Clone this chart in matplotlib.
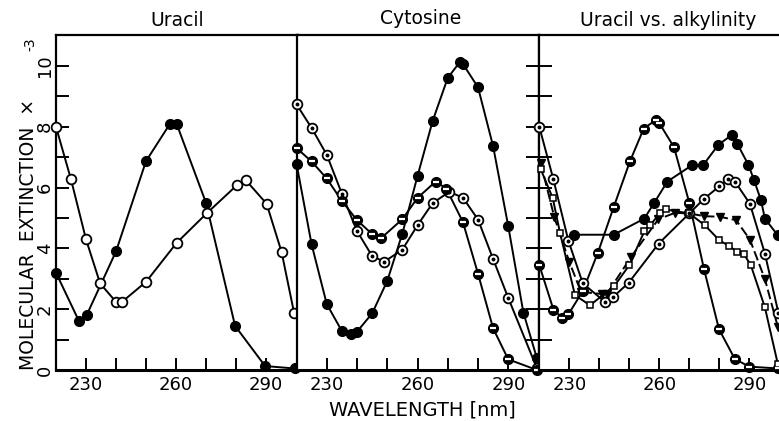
import numpy as np
import matplotlib
matplotlib.use("Agg")
import matplotlib.pyplot as plt

W, H = 779, 421

# ---- Uracil (panel 1)
u_neut_wl = [220, 227.7, 230.2, 240, 250, 258, 260.2, 270, 279.7, 289.7, 299.5]
u_neut = [3.2, 1.6, 1.8, 3.9, 6.87, 8.1, 8.1, 5.5, 1.45, 0.13, 0.05]
u_alk_wl = [220, 225, 230, 234.7, 240, 242, 250, 260.2, 270.2, 280.2, 283.3, 290.2, 295.2, 299.4]
u_alk = [8.0, 6.27, 4.3, 2.85, 2.24, 2.24, 2.9, 4.18, 5.15, 6.07, 6.24, 5.47, 3.88, 1.86]

# ---- Cytosine (panel 2)
c_fill_wl = [220, 225, 230, 235, 238, 240, 245, 250, 255, 260, 265, 270, 274, 275, 280, 285, 290, 295, 299.5]
c_fill = [6.79, 4.13, 2.17, 1.28, 1.17, 1.26, 1.86, 2.93, 4.49, 6.38, 8.19, 9.61, 10.13, 10.07, 9.3, 7.36, 4.73, 1.89, 0.38]
c_dot_wl = [220, 225, 230, 235, 240, 245, 249, 255, 260, 265, 270.5, 275, 280, 285, 290, 299.5]
c_dot = [8.74, 7.96, 7.08, 5.8, 4.57, 3.75, 3.56, 3.96, 4.76, 5.49, 5.86, 5.67, 4.95, 3.65, 2.37, 0.05]
c_half_wl = [220, 225, 230, 235, 240, 245, 248, 255, 260, 266, 269.5, 275, 280, 285, 290, 299.5]
c_half = [7.3, 6.86, 6.3, 5.56, 4.93, 4.47, 4.34, 4.96, 5.66, 6.2, 5.97, 4.87, 3.17, 1.37, 0.35, 0.0]

# ---- Uracil vs. alkylinity (panel 3)
a_half_wl = [220, 224.7, 227.6, 229.7, 234.5, 239.5, 244.8, 250.2, 254.8, 258.9, 260, 264.9, 270, 274.9, 279.9, 285.2, 290, 299.6]
a_half = [3.45, 1.99, 1.72, 1.83, 2.6, 3.85, 5.36, 6.86, 7.94, 8.23, 8.12, 7.33, 5.5, 3.32, 1.34, 0.36, 0.11, 0.05]
a_dot_wl = [220, 224.7, 229.7, 234.5, 241.9, 244.7, 249.8, 259.8, 270, 275, 280, 283, 285.2, 290.2, 295.2, 299.7]
a_dot = [8.0, 6.27, 4.25, 2.85, 2.24, 2.41, 2.87, 4.16, 5.15, 5.64, 6.04, 6.27, 6.2, 5.47, 3.83, 1.88]
a_fill_wl = [231.7, 244.8, 255, 258.3, 262.7, 270.8, 274.7, 279.7, 284.3, 286, 289.7, 291.6, 293.9, 295.2, 299.5]
a_fill = [4.45, 4.45, 4.98, 5.5, 6.2, 6.73, 6.75, 7.41, 7.74, 7.44, 6.75, 6.24, 5.58, 4.98, 4.43]
a_tri_wl = [220.5, 225, 230, 233.9, 240.8, 242.5, 250.6, 259.7, 265.2, 270, 275, 280.2, 285.6, 290.2, 295.2, 299.5]
a_tri = [6.8, 5.03, 3.56, 2.57, 2.5, 2.5, 3.72, 4.96, 5.17, 5.15, 5.06, 5.04, 4.93, 4.29, 2.99, 1.42]
a_sq_wl = [220.5, 224.5, 226.9, 231.9, 236.9, 245, 250, 255, 256.9, 260.2, 262.2, 270, 275.2, 280, 283.2, 286, 288.2, 290.5, 295.2, 299.5]
a_sq = [6.6, 5.65, 4.51, 2.46, 2.13, 2.76, 3.45, 4.56, 4.76, 5.15, 5.28, 5.15, 4.76, 4.27, 4.08, 3.89, 3.81, 3.45, 2.06, 0.2]


def series(ax, wl, vals, kind, ls='-'):
    ax.plot(wl, vals, color='k', lw=1.4, ls=ls, zorder=2, clip_on=False)
    if kind == 'filled':
        ax.plot(wl, vals, 'o', ms=7, mfc='k', mec='k', zorder=3, clip_on=False)
    elif kind == 'open':
        ax.plot(wl, vals, 'o', ms=7, mfc='w', mec='k', mew=1.3, zorder=3, clip_on=False)
    elif kind == 'dot':
        ax.plot(wl, vals, 'o', ms=7, mfc='w', mec='k', mew=1.3, zorder=3, clip_on=False)
        ax.plot(wl, vals, 'o', ms=1.8, mfc='k', mec='k', zorder=4, clip_on=False)
    elif kind == 'half':
        ax.plot(wl, vals, 'o', ms=7, mfc='k', mec='k', zorder=3, clip_on=False)
        ax.plot(wl, vals, '_', ms=5, mec='w', mew=1.6, zorder=4, clip_on=False)
    elif kind == 'tri':
        ax.plot(wl, vals, 'v', ms=6, mfc='k', mec='k', zorder=3, clip_on=False)
    elif kind == 'square':
        ax.plot(wl, vals, 's', ms=3.8, mfc='w', mec='k', mew=1.1, zorder=3, clip_on=False)


def px_axes(fig, left, right, top=35, bottom=370):
    return fig.add_axes([left / W, (H - bottom) / H, (right - left) / W, (bottom - top) / H])


fig = plt.figure(figsize=(W / 100, H / 100), dpi=100)
ax1 = px_axes(fig, 56, 297.5)
ax2 = px_axes(fig, 296.5, 538.5)
ax3 = px_axes(fig, 539.3, 779.3)

ax1.set_xlim(220, 300.5)
ax2.set_xlim(220, 300)
ax3.set_xlim(220, 300)

xt = [230, 240, 250, 260, 270, 280, 290]
xtl = ['230', '', '', '260', '', '', '290']
for ax in (ax1, ax2, ax3):
    ax.set_ylim(0, 11.02)
    ax.set_xticks(xt)
    ax.set_xticklabels(xtl)
    ax.tick_params(axis='x', direction='in', length=9, width=1.4, labelsize=13, pad=4)
    ax.tick_params(axis='y', direction='in', length=9.5, width=1.4)
    for s in ax.spines.values():
        s.set_linewidth(1.6)
    ax.spines['bottom'].set_linewidth(2.2)

ax1.set_yticks(range(0, 11))
ax1.set_yticklabels(['0', '', '2', '', '4', '', '6', '', '8', '', '10'],
                    rotation=90, va='center', fontsize=13)
ax1.tick_params(axis='y', pad=1.5)

ax2.yaxis.tick_right()
ax2.set_yticks(range(1, 11))
ax2.tick_params(axis='y', labelright=False)

ax3.set_yticks(range(1, 11))
ax3.set_yticklabels([])
ax3.spines['right'].set_visible(False)

series(ax1, u_neut_wl, u_neut, 'filled')
series(ax1, u_alk_wl, u_alk, 'open')

series(ax2, c_fill_wl, c_fill, 'filled')
series(ax2, c_dot_wl, c_dot, 'dot')
series(ax2, c_half_wl, c_half, 'half')

series(ax3, a_half_wl, a_half, 'half')
series(ax3, a_dot_wl, a_dot, 'dot')
series(ax3, a_fill_wl, a_fill, 'filled')
series(ax3, a_tri_wl, a_tri, 'tri', ls=(0, (5, 2)))
series(ax3, a_sq_wl, a_sq, 'square')


def ftext(x, y, s, **kw):
    fig.text(x / W, 1 - y / H, s, **kw)


ftext(177, 20, 'Uracil', fontsize=13.5, ha='center', va='center')
ftext(421, 19, 'Cytosine', fontsize=13.5, ha='center', va='center')
ftext(668, 20, 'Uracil vs. alkylinity', fontsize=13.5, ha='center', va='center')
ftext(422, 410, 'WAVELENGTH [nm]', fontsize=14, ha='center', va='center')
ftext(29, 370, 'MOLECULAR  EXTINCTION  \u00d7', fontsize=13.5, rotation=90,
      ha='center', va='bottom')
ftext(30, 44, '-3', fontsize=10, rotation=90, ha='center', va='center')

fig.savefig('out.png', dpi=100)
